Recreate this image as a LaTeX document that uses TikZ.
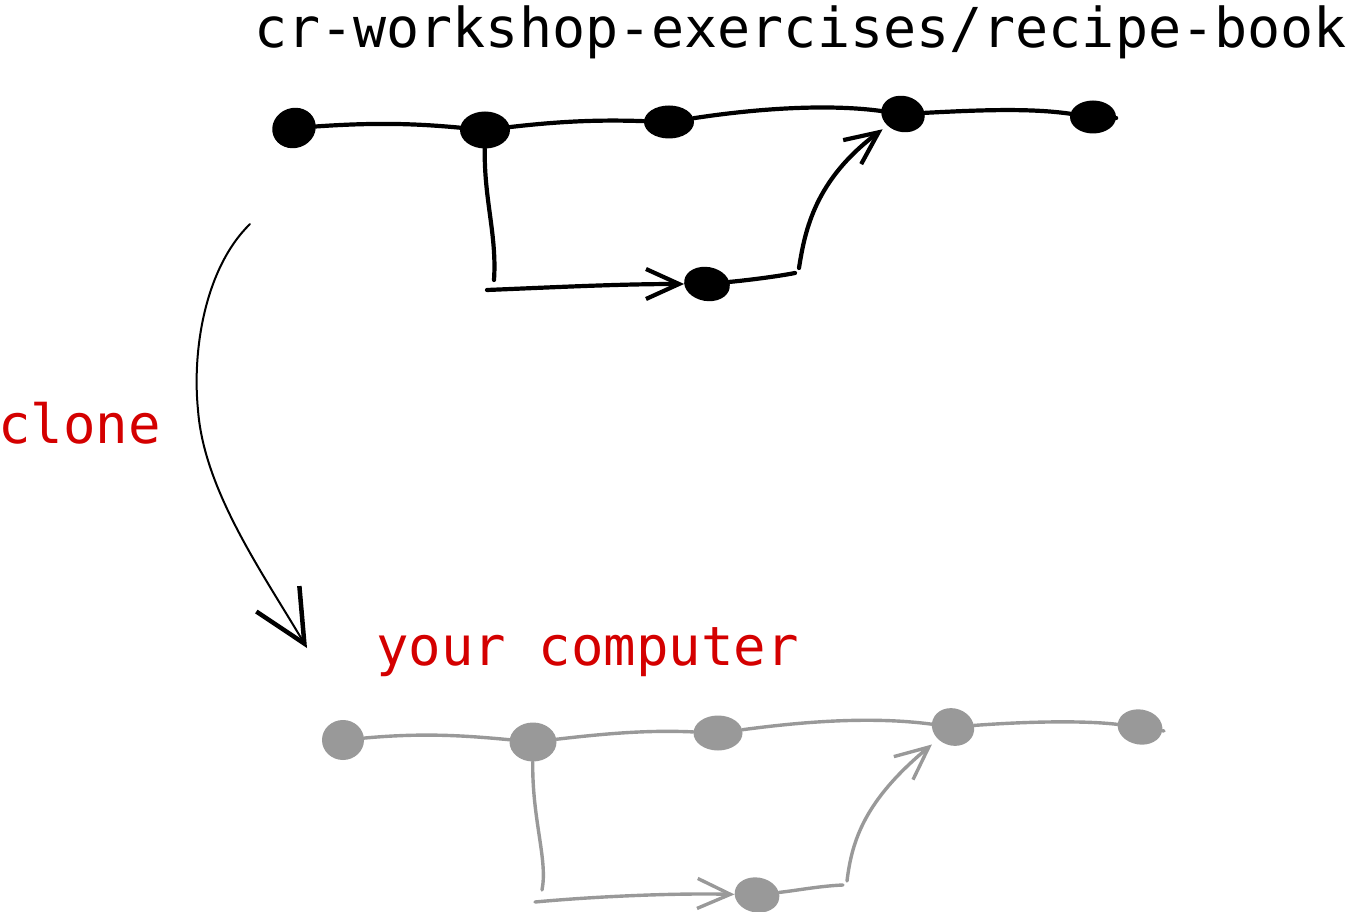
\documentclass[tikz,border=0pt]{standalone}
\usepackage{fontspec}
\setmonofont{DejaVu Sans Mono}
\usetikzlibrary{shapes.geometric,arrows.meta}
\definecolor{myred}{RGB}{212,0,0}
\definecolor{mygrey}{RGB}{153,153,153}
\tikzset{
  commit/.style n args={2}{ellipse, fill, inner sep=0pt, minimum width=#1pt, minimum height=#2pt},
  lnw/.style={line width=#1, line cap=round},
  barb/.style={-{Straight Barb[length=33pt,width=30pt]}},
  lbl/.style={font=\ttfamily\fontsize{54}{60}\selectfont, inner sep=0pt, anchor=base west},
}
\begin{document}
\begin{tikzpicture}[x=1pt,y=-1pt]
\useasboundingbox (0,0) rectangle (1353,912);

% titles
\node[lbl, font=\ttfamily\fontsize{55}{60}\selectfont] (title) at (254,48) {cr-workshop-exercises/recipe-book};
\node[lbl, text=myred] (clone) at (-2,443) {clone};
\node[lbl, text=myred] (yours) at (376,665) {your computer};

% ---- black graph ----
\begin{scope}[black]
\node[commit={44}{40}, rotate=20, fill=black] (A) at (294,128) {};
\node[commit={50}{37}, fill=black] (B) at (485,130) {};
\node[commit={50}{33}, fill=black] (C) at (669,122) {};
\node[commit={44}{36}, rotate=-15, fill=black] (D) at (903,114) {};
\node[commit={46}{33}, fill=black] (E) at (1093,117) {};
\node[commit={46}{34}, rotate=-10, fill=black] (F) at (707,284) {};
\coordinate (Et) at (1116,118);
\coordinate (b1) at (494,280);
\coordinate (b2) at (487,290);
\coordinate (f1) at (795,273);
\coordinate (f2) at (799,268);

\draw[lnw=4.2pt] (A) .. controls (380,122) and (420,124) .. (B);
\draw[lnw=4.2pt] (B) .. controls (570,120) and (610,120) .. (C);
\draw[lnw=4.2pt] (C) .. controls (760,108) and (830,104) .. (D);
\draw[lnw=4.2pt] (D) .. controls (980,110) and (1030,108) .. (E);
\draw[lnw=4.2pt] (E) -- (Et);
\draw[lnw=4.2pt] (B) .. controls (484,200) and (497,235) .. (b1);
\draw[lnw=4.2pt, barb] (b2) .. controls (560,287) and (620,284) .. (F);
\draw[lnw=4.2pt] (F) .. controls (750,280) and (780,276) .. (f1);
\draw[lnw=4.2pt, barb, shorten >=6pt] (f2) .. controls (805,230) and (815,180) .. (D);
\end{scope}

% ---- clone arrow ----
\coordinate (c1) at (250,224);
\coordinate (cm) at (198,410);
\coordinate (c2) at (307,648);
\draw[line width=2pt, line cap=round, -{Straight Barb[length=52pt,width=50pt,line width=4.5pt]}]
  (c1) .. controls (205,268) and (192,350) .. (cm)
       .. controls (204,490) and (262,572) .. (c2);

% ---- grey graph ----
\begin{scope}[mygrey]
\node[commit={42}{40}, fill=mygrey] (A2) at (343,740) {};
\node[commit={47}{39}, fill=mygrey] (B2) at (533,742) {};
\node[commit={49}{35}, fill=mygrey] (C2) at (718,733) {};
\node[commit={43}{37}, rotate=-20, fill=mygrey] (D2) at (953,727) {};
\node[commit={45}{35}, rotate=-10, fill=mygrey] (E2) at (1140,727) {};
\node[commit={45}{35}, rotate=-10, fill=mygrey] (F2) at (757,895) {};
\coordinate (Et2) at (1164,731);
\coordinate (b12) at (542,890);
\coordinate (b22) at (535,902);
\coordinate (f12) at (843,885);
\coordinate (f22) at (847,881);

\draw[lnw=3.4pt] (A2) .. controls (420,733) and (460,735) .. (B2);
\draw[lnw=3.4pt] (B2) .. controls (610,733) and (650,730) .. (C2);
\draw[lnw=3.4pt] (C2) .. controls (800,722) and (870,716) .. (D2);
\draw[lnw=3.4pt] (D2) .. controls (1020,722) and (1080,720) .. (E2);
\draw[lnw=3.4pt] (E2) -- (Et2);
\draw[lnw=3.4pt] (B2) .. controls (532,820) and (548,860) .. (b12);
\draw[lnw=3.4pt, barb] (b22) .. controls (600,896) and (680,893) .. (F2);
\draw[lnw=3.4pt] (F2) .. controls (800,890) and (820,886) .. (f12);
\draw[lnw=3.4pt, barb, shorten >=8pt] (f22) .. controls (852,840) and (865,800) .. (D2);
\end{scope}
\end{tikzpicture}
\end{document}
